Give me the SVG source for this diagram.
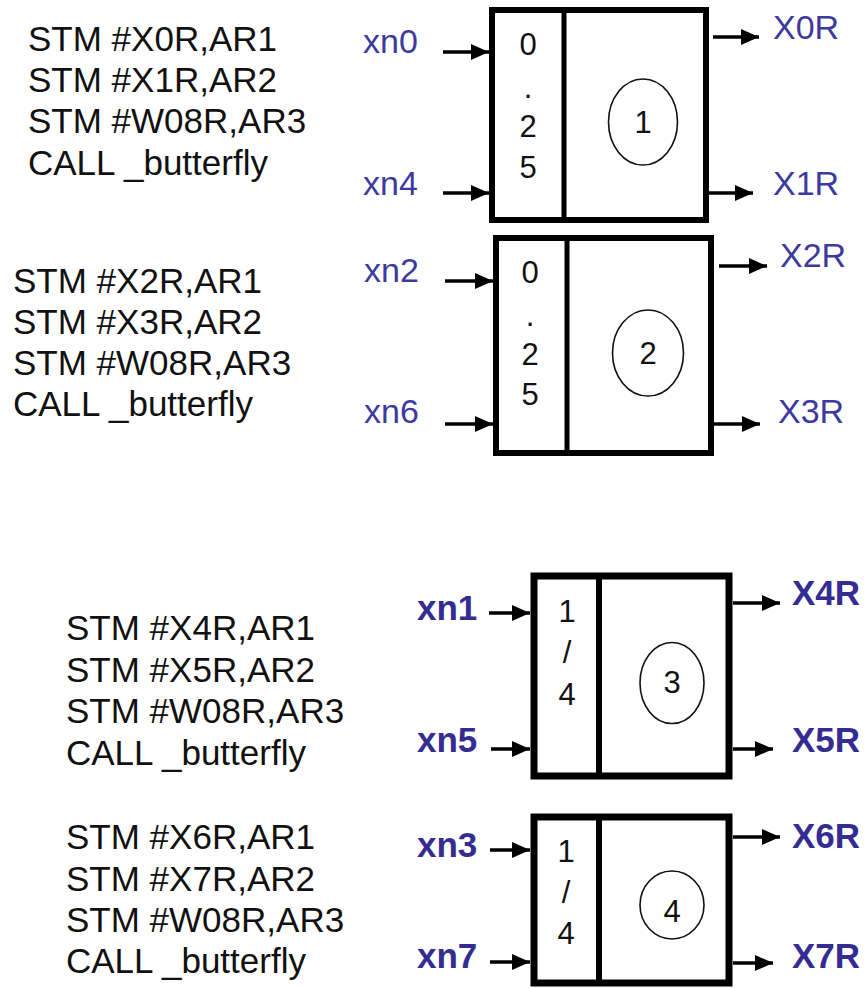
<svg xmlns="http://www.w3.org/2000/svg" width="867" height="988" viewBox="0 0 867 988">
<defs>
<style>
.code{font-family:"Liberation Sans",Arial,sans-serif;font-size:35px;fill:#111}
.lbl{font-family:"Liberation Sans",Arial,sans-serif;font-size:34px;fill:#3d3a9e}
.lblb{font-family:"Liberation Sans",Arial,sans-serif;font-size:35px;font-weight:bold;fill:#352c92}
.dig{font-family:"Liberation Sans",Arial,sans-serif;font-size:31px;fill:#111;text-anchor:middle}
.box{fill:#fff;stroke:#000}
.div{stroke:#000}
.ell{fill:none;stroke:#111;stroke-width:1.6}
.conn line{stroke:#000;stroke-width:3.5;marker-end:url(#ah)}
</style>
<marker id="ah" markerWidth="18" markerHeight="16" refX="18" refY="8" orient="auto" markerUnits="userSpaceOnUse">
<path d="M0,0 L18,8 L0,16 z" fill="#000"/>
</marker>
</defs>
<rect width="867" height="988" fill="#fff"/>

<g id="code1">
<text class="code" x="28" y="51">STM #X0R,AR1</text>
<text class="code" x="28" y="92">STM #X1R,AR2</text>
<text class="code" x="28" y="133">STM #W08R,AR3</text>
<text class="code" x="28" y="175">CALL _butterfly</text>
</g>
<g id="code2">
<text class="code" x="13" y="293">STM #X2R,AR1</text>
<text class="code" x="13" y="334">STM #X3R,AR2</text>
<text class="code" x="13" y="375">STM #W08R,AR3</text>
<text class="code" x="13" y="416">CALL _butterfly</text>
</g>
<g id="code3">
<text class="code" x="66" y="640">STM #X4R,AR1</text>
<text class="code" x="66" y="682">STM #X5R,AR2</text>
<text class="code" x="66" y="723">STM #W08R,AR3</text>
<text class="code" x="66" y="765">CALL _butterfly</text>
</g>
<g id="code4">
<text class="code" x="66" y="849">STM #X6R,AR1</text>
<text class="code" x="66" y="891">STM #X7R,AR2</text>
<text class="code" x="66" y="932">STM #W08R,AR3</text>
<text class="code" x="66" y="973">CALL _butterfly</text>
</g>

<g id="bf1">
<rect class="box" x="492" y="10" width="214" height="210" stroke-width="6"/>
<line class="div" x1="564" y1="10" x2="564" y2="220" stroke-width="5"/>
<text class="dig" x="528" y="55">0</text>
<text class="dig" x="528" y="98">.</text>
<text class="dig" x="528" y="137">2</text>
<text class="dig" x="528" y="178">5</text>
<ellipse class="ell" cx="643" cy="122" rx="34.5" ry="43"/>
<text class="dig" x="643" y="133">1</text>
</g>
<g id="bf2">
<rect class="box" x="496" y="238" width="215" height="215" stroke-width="6"/>
<line class="div" x1="567" y1="238" x2="567" y2="453" stroke-width="5"/>
<text class="dig" x="530" y="283">0</text>
<text class="dig" x="530" y="326">.</text>
<text class="dig" x="530" y="365">2</text>
<text class="dig" x="530" y="405">5</text>
<ellipse class="ell" cx="648" cy="353" rx="35.5" ry="43"/>
<text class="dig" x="648" y="364">2</text>
</g>
<g id="bf3">
<rect class="box" x="534" y="576" width="195" height="200" stroke-width="7"/>
<line class="div" x1="599" y1="576" x2="599" y2="776" stroke-width="6"/>
<text class="dig" x="567" y="622">1</text>
<text class="dig" x="567" y="663">/</text>
<text class="dig" x="567" y="705">4</text>
<ellipse class="ell" cx="672" cy="683" rx="32" ry="40.5"/>
<text class="dig" x="672" y="693">3</text>
</g>
<g id="bf4">
<rect class="box" x="534" y="817" width="195" height="166" stroke-width="7"/>
<line class="div" x1="599" y1="817" x2="599" y2="983" stroke-width="6"/>
<text class="dig" x="566" y="862">1</text>
<text class="dig" x="566" y="903">/</text>
<text class="dig" x="566" y="944">4</text>
<ellipse class="ell" cx="672" cy="905" rx="32" ry="34"/>
<text class="dig" x="672" y="922">4</text>
</g>

<g id="labels">
<text class="lbl" x="363" y="53">xn0</text>
<text class="lbl" x="363" y="195">xn4</text>
<text class="lbl" x="773" y="39">X0R</text>
<text class="lbl" x="773" y="195">X1R</text>
<text class="lbl" x="364" y="282">xn2</text>
<text class="lbl" x="364" y="423">xn6</text>
<text class="lbl" x="780" y="267">X2R</text>
<text class="lbl" x="778" y="423">X3R</text>
<text class="lblb" x="417" y="620">xn1</text>
<text class="lblb" x="417" y="752">xn5</text>
<text class="lblb" x="792" y="605">X4R</text>
<text class="lblb" x="792" y="752">X5R</text>
<text class="lblb" x="417" y="857">xn3</text>
<text class="lblb" x="417" y="968">xn7</text>
<text class="lblb" x="792" y="848">X6R</text>
<text class="lblb" x="792" y="968">X7R</text>
</g>

<g id="connectors" class="conn">
<line x1="443" y1="52" x2="489" y2="52"/>
<line x1="443" y1="193" x2="489" y2="193"/>
<line x1="713" y1="37" x2="759" y2="37"/>
<line x1="709" y1="193" x2="753" y2="193"/>
<line x1="445" y1="281" x2="493" y2="281"/>
<line x1="445" y1="424" x2="493" y2="424"/>
<line x1="719" y1="266" x2="767" y2="266"/>
<line x1="714" y1="424" x2="760" y2="424"/>
<line x1="489" y1="613" x2="530" y2="613"/>
<line x1="491" y1="749" x2="530" y2="749"/>
<line x1="733" y1="603" x2="780" y2="603"/>
<line x1="733" y1="749" x2="773" y2="749"/>
<line x1="490" y1="850" x2="530" y2="850"/>
<line x1="490" y1="962" x2="530" y2="962"/>
<line x1="733" y1="837" x2="780" y2="837"/>
<line x1="733" y1="963" x2="773" y2="963"/>
</g>
</svg>
